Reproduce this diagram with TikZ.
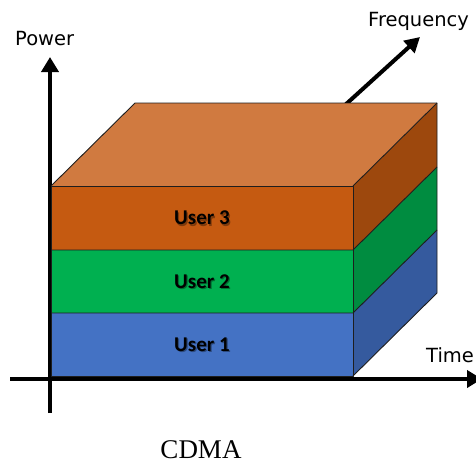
\documentclass[tikz,border=0pt]{standalone}
\usepackage{fontspec}
\setmainfont{DejaVu Sans}
\newfontfamily\userfont{Carlito}
\newfontfamily\titlefont{Liberation Serif}
\usetikzlibrary{arrows.meta}

\definecolor{topO}{RGB}{208,122,64}
\definecolor{frontO}{RGB}{197,90,17}
\definecolor{sideO}{RGB}{157,72,13}
\definecolor{frontG}{RGB}{0,176,80}
\definecolor{sideG}{RGB}{0,140,64}
\definecolor{frontB}{RGB}{68,114,196}
\definecolor{sideB}{RGB}{53,90,158}
\definecolor{edgeC}{RGB}{30,30,30}

\tikzset{
  axis/.style={line width=4.5pt, -{Triangle[length=15pt,width=17pt]}},
  freqarrow/.style={line width=4pt, -{Triangle[length=15pt,width=16pt]}},
  face/.style={draw=edgeC, line width=0.9pt, line join=round},
  axislabel/.style={font=\fontsize{19.5}{22}\selectfont, anchor=base west, inner sep=0pt},
  userlabel/.style={font=\userfont\bfseries\fontsize{21}{24}\selectfont, text=black},
  usershadow/.style={userlabel, text=black, opacity=0.35},
  title/.style={font=\titlefont\fontsize{27}{30}\selectfont, anchor=base, inner sep=0pt}
}

\begin{document}
\begin{tikzpicture}[x=1pt,y=-1pt]
  \useasboundingbox (0,0) rectangle (476,464);

  % axis end points
  \coordinate (vbot) at (50,413);
  \coordinate (vtop) at (50,57);
  \coordinate (hleft) at (10,379);
  \coordinate (hright) at (482,379);
  \coordinate (fstart) at (290,155);
  \coordinate (fend) at (420,37);

  % frequency axis runs behind the block
  \draw[freqarrow] (fstart) -- (fend);

  % power and time axes
  \draw[axis] (vbot) -- (vtop);
  \draw[axis] (hleft) -- (hright);

  % front face corners, level by level
  \coordinate (a0) at (51,376);  \coordinate (b0) at (353,376);
  \coordinate (a1) at (51,313);  \coordinate (b1) at (353,313);
  \coordinate (a2) at (51,250);  \coordinate (b2) at (353,250);
  \coordinate (a3) at (51,186);  \coordinate (b3) at (353,186);
  % depth offset
  \def\dx{84}\def\dy{-83}

  % user 1 layer
  \fill[frontB] (a0) rectangle (b1);
  \fill[sideB] (b0) -- ++(\dx,\dy) -- ([shift={(\dx,\dy)}]b1) -- (b1) -- cycle;
  % user 2 layer
  \fill[frontG] (a1) rectangle (b2);
  \fill[sideG] (b1) -- ++(\dx,\dy) -- ([shift={(\dx,\dy)}]b2) -- (b2) -- cycle;
  % user 3 layer
  \fill[frontO] (a2) rectangle (b3);
  \fill[sideO] (b2) -- ++(\dx,\dy) -- ([shift={(\dx,\dy)}]b3) -- (b3) -- cycle;
  % top face
  \fill[topO] (a3) -- ++(\dx,\dy) -- ([shift={(\dx,\dy)}]b3) -- (b3) -- cycle;

  % edges
  \draw[face] (a0) rectangle (b3);
  \draw[face] (a1) -- (b1) -- ++(\dx,\dy);
  \draw[face] (a2) -- (b2) -- ++(\dx,\dy);
  \draw[face] (b0) -- ++(\dx,\dy) -- ([shift={(\dx,\dy)}]b3) -- ([shift={(\dx,\dy)}]a3) -- (a3);
  \draw[face] (b3) -- ++(\dx,\dy);

  % layer labels with a soft drop shadow
  \node[usershadow] (u3s) at (203.2,219.2) {User 3};
  \node[usershadow] (u2s) at (203.2,282.7) {User 2};
  \node[usershadow] (u1s) at (203.2,345.7) {User 1};
  \node[userlabel] (u3) at (202,218) {User 3};
  \node[userlabel] (u2) at (202,281.5) {User 2};
  \node[userlabel] (u1) at (202,344.5) {User 1};

  % axis labels
  \node[axislabel] (power) at (15,45) {Power};
  \node[axislabel] (freq) at (368,26) {Frequency};
  \node[axislabel] (time) at (426,362) {Time};

  % caption
  \node[title] (cdma) at (201,458) {CDMA};
\end{tikzpicture}
\end{document}
